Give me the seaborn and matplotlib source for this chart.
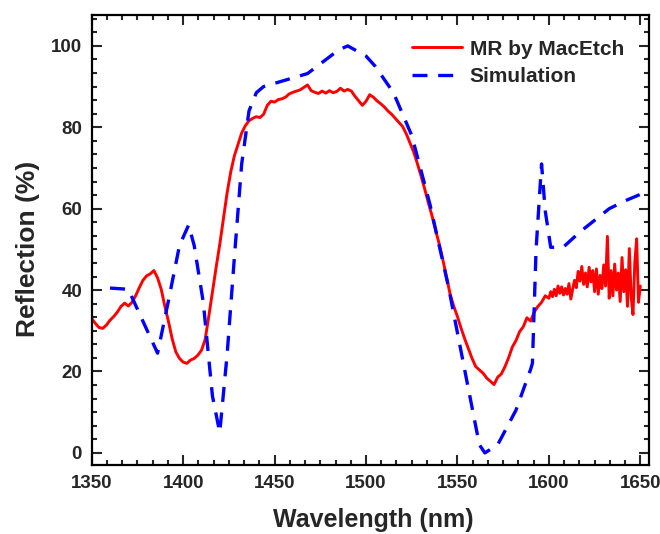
import numpy as np
import pandas as pd
import matplotlib
matplotlib.use('Agg')
import matplotlib.pyplot as plt
from matplotlib.ticker import MultipleLocator, AutoMinorLocator
import seaborn as sns

# measured reflection (MR by MacEtch): every 2 nm up to 1598, then every 1 nm (noisy tail)
wl_meas = np.concatenate([np.arange(1350, 1600, 2), np.arange(1600, 1651, 1)])
r_meas = [33.0, 31.8, 30.8, 30.6, 31.4, 32.6, 33.5, 34.6, 36.0, 36.8,
          36.1, 37.0, 38.6, 40.6, 42.4, 43.5, 44.0, 44.8, 43.0, 40.2,
          36.0, 32.2, 28.0, 24.8, 23.2, 22.3, 22.0, 22.8, 23.2, 24.0,
          25.2, 27.8, 33.5, 39.5, 45.5, 51.2, 57.5, 63.8, 69.0, 73.0,
          75.8, 78.6, 80.4, 81.6, 82.2, 82.6, 82.4, 83.2, 85.4, 86.4,
          86.2, 86.8, 87.0, 87.4, 88.2, 88.6, 88.9, 89.2, 89.8, 90.4,
          89.0, 88.6, 88.3, 88.9, 88.4, 89.0, 88.5, 88.8, 89.6, 88.9,
          89.3, 88.9, 87.6, 86.5, 85.4, 86.4, 88.0, 87.4, 86.5, 85.8,
          85.0, 84.0, 83.2, 82.2, 81.2, 80.2, 78.4, 76.2, 74.0, 71.2,
          68.2, 65.0, 61.6, 58.4, 54.8, 51.4, 47.5, 43.2, 39.0, 36.0,
          33.5, 30.6, 28.0, 25.6, 23.2, 21.2, 20.4, 19.6, 18.4, 17.6,
          16.8, 18.6, 19.4, 21.2, 23.4, 26.0, 27.6, 29.8, 31.0, 33.2,
          32.4, 34.6, 36.0, 37.0, 38.6,
          38.0, 39.6, 38.4, 40.2, 38.6, 41.0, 39.2, 40.8, 38.8, 40.4,
          39.0, 41.6, 37.8, 40.2, 42.4, 40.6, 44.6, 42.2, 45.8, 41.4,
          44.2, 40.8, 45.6, 42.0, 44.8, 39.6, 45.2, 39.0, 43.6, 40.4,
          46.2, 41.0, 53.2, 38.0, 44.8, 38.6, 46.4, 40.0, 44.2, 37.2,
          48.0, 39.6, 45.0, 36.0, 50.2, 38.4, 34.0, 46.8, 52.6, 37.0,
          41.0]

# simulation
wl_sim = [1360, 1370, 1386, 1392, 1398, 1403, 1406, 1411, 1416, 1420,
          1424, 1428, 1432, 1436, 1440, 1444, 1450, 1468, 1485, 1490,
          1500, 1505, 1515, 1525, 1535, 1545, 1555, 1562, 1565, 1572,
          1582, 1590, 1591, 1593, 1596, 1598, 1601, 1608, 1617, 1626,
          1633, 1642, 1651]
r_sim = [40.5, 40.2, 24.5, 37.5, 51.0, 56.0, 51.0, 37.0, 14.0, 5.0,
         24.0, 48.0, 71.0, 84.0, 88.5, 90.0, 90.8, 93.2, 99.0, 100.0,
         97.5, 95.0, 88.5, 78.0, 61.0, 41.0, 18.0, 2.0, 0.0, 2.0,
         10.5, 20.5, 22.0, 50.0, 71.0, 59.5, 50.5, 50.6, 54.3, 57.5,
         60.0, 62.0, 63.7]

df_meas = pd.DataFrame({'Wavelength': wl_meas, 'Reflection': r_meas})
df_sim = pd.DataFrame({'Wavelength': wl_sim, 'Reflection': r_sim})

sns.set_style('ticks')
plt.rcParams['font.family'] = ['Liberation Sans', 'DejaVu Sans']
plt.rcParams['font.weight'] = 'bold'

fig = plt.figure(figsize=(6.6, 5.34), dpi=100)
ax = fig.add_axes([0.139, 0.129, 0.845, 0.843])

sns.lineplot(data=df_meas, x='Wavelength', y='Reflection', color='#ff0000',
             lw=2.1, label='MR by MacEtch', ax=ax)
sns.lineplot(data=df_sim, x='Wavelength', y='Reflection', color='#0000ff',
             lw=2.4, label='Simulation', ax=ax)
ax.lines[1].set_dashes((4.5, 3.2))

ax.set_xlim(1350, 1655)
ax.set_ylim(-3, 107.6)
ax.xaxis.set_major_locator(MultipleLocator(50))
ax.yaxis.set_major_locator(MultipleLocator(20))
ax.xaxis.set_minor_locator(AutoMinorLocator(6))
ax.yaxis.set_minor_locator(AutoMinorLocator(6))

ax.tick_params(which='both', direction='in', top=True, right=True, width=1.5,
               labelsize=13.5, pad=7)
ax.tick_params(which='major', length=7)
ax.tick_params(which='minor', length=3.5)
for lab in ax.get_xticklabels() + ax.get_yticklabels():
    lab.set_fontweight('bold')
for sp in ax.spines.values():
    sp.set_linewidth(1.6)
    sp.set_color('black')

ax.set_xlabel('Wavelength (nm)', fontsize=18, fontweight='bold')
ax.set_ylabel('Reflection (%)', fontsize=19, fontweight='bold')
ax.xaxis.set_label_coords(0.505, -0.095)
ax.yaxis.set_label_coords(-0.093, 0.48)

leg = ax.legend(loc='upper left', bbox_to_anchor=(0.575, 0.945), frameon=False,
                fontsize=15, handlelength=2.4, handletextpad=0.35,
                labelspacing=0.4, borderpad=0, borderaxespad=0)
for t in leg.get_texts():
    t.set_fontweight('bold')

plt.savefig('out.png', dpi=100)
